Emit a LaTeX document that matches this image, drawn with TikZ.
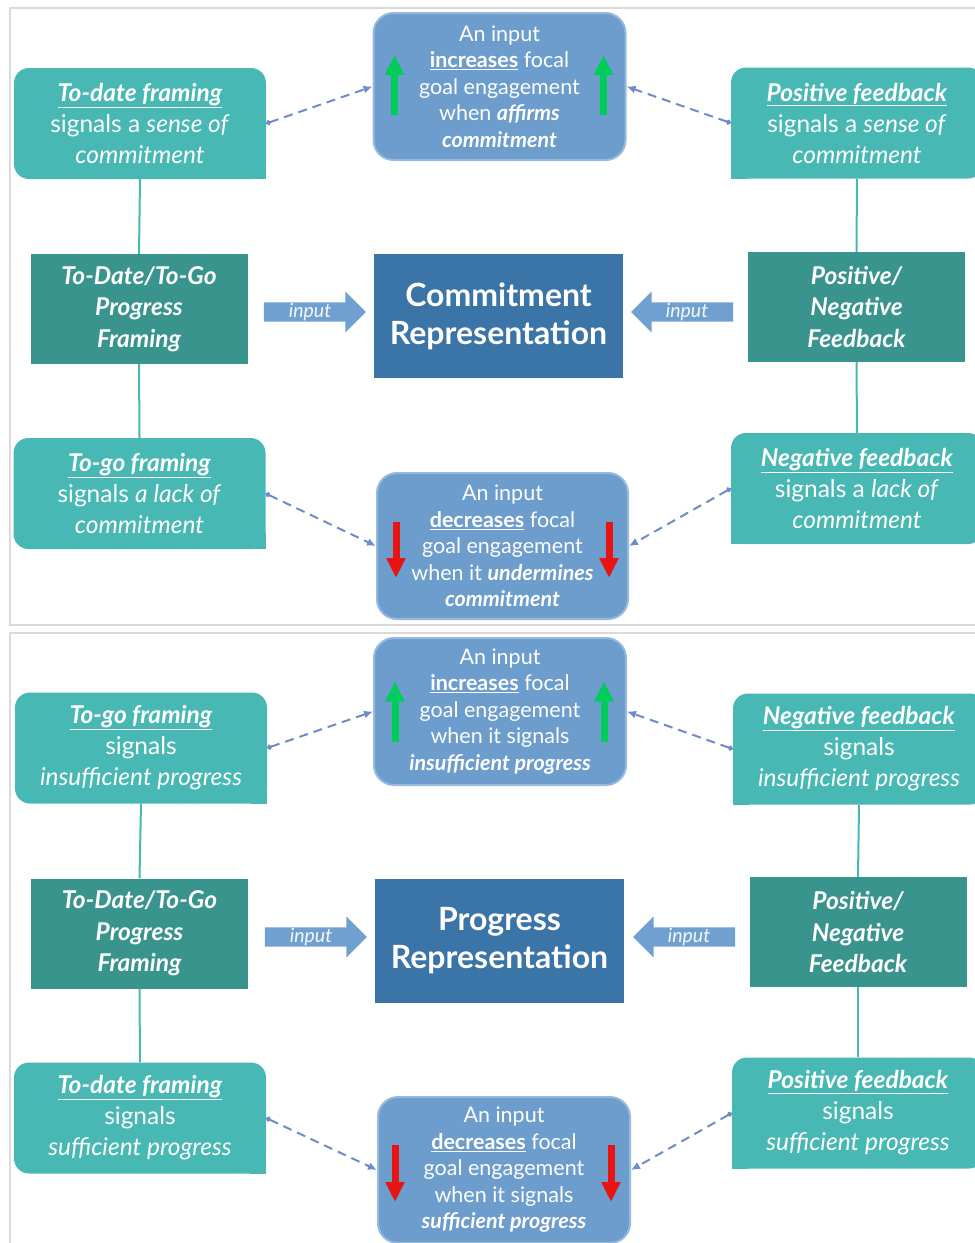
\documentclass[tikz,border=0pt]{standalone}
\usepackage{fontspec}
\setmainfont{Lato}
\usetikzlibrary{arrows.meta,shapes.arrows,calc}
\definecolor{tealL}{RGB}{72,184,180}
\definecolor{tealD}{RGB}{58,148,142}
\definecolor{repblue}{RGB}{59,117,167}
\definecolor{boxblue}{RGB}{108,157,204}
\definecolor{boxedge}{RGB}{150,186,222}
\definecolor{arrblue}{RGB}{111,160,207}
\definecolor{dashblue}{RGB}{110,140,200}
\definecolor{panelgray}{RGB}{218,218,218}
\definecolor{upgreen}{RGB}{0,204,90}
\definecolor{downred}{RGB}{232,20,20}
\newcommand{\mybi}[1]{\textbf{\textit{#1}}}
\newcommand{\myul}[1]{\underline{\textbf{\textit{#1}}}}
\tikzset{
  x=1pt, y=-1pt,
  sigbox/.style={rectangle, rounded corners=15pt, fill=tealL, text=white, minimum width=252pt, minimum height=111pt, align=center, inner sep=0pt, font=\fontsize{24.5}{31}\selectfont},
  darkbox/.style={rectangle, fill=tealD, text=white, minimum width=217pt, minimum height=110pt, align=center, inner sep=0pt, font=\fontsize{24.5}{31.5}\selectfont\bfseries\itshape},
  repbox/.style={rectangle, fill=repblue, text=white, minimum width=249pt, minimum height=124pt, align=center, inner sep=0pt, font=\fontsize{32}{38}\selectfont\bfseries},
  effbox/.style={rectangle, rounded corners=20pt, fill=boxblue, draw=boxedge, line width=2pt, text=white, minimum width=252pt, minimum height=147pt, align=center, inner sep=0pt, font=\fontsize{21.5}{26.5}\selectfont},
  inarrow/.style={single arrow, fill=arrblue, text=white!92!arrblue, minimum height=102pt, minimum width=41pt, single arrow head extend=10pt, inner sep=0pt, font=\fontsize{19.5}{22}\selectfont\itshape},
  link/.style={draw=tealL, line width=2pt},
  dashlink/.style={draw=dashblue, line width=2pt, dash pattern=on 9pt off 6pt, {Circle[length=5pt]}-{Latex[length=9pt,width=8pt]}},
  upar/.style={draw=upgreen, line width=7pt, -{Triangle[length=20pt,width=18pt]}},
  downar/.style={draw=downred, line width=7pt, -{Triangle[length=20pt,width=18pt]}},
  panel/.style={draw=panelgray, line width=1.5pt}
}
\begin{document}
\begin{tikzpicture}
\useasboundingbox (0,0) rectangle (975,1243);
\fill[white] (0,0) rectangle (975,1243);
\draw[panel] (10,8) rectangle (990,625);
\draw[panel] (10,633) rectangle (990,1260);

% ---------- Panel 1 ----------
\node[sigbox] (tl1) at (140,123.5) {\myul{To-date framing}\\signals a \textit{sense of}\\\textit{commitment}};
\fill[tealL] (tl1.south east) rectangle ++(-16,-16);
\node[sigbox] (tr1) at (857,123) {\myul{Positive feedback}\\signals a \textit{sense of}\\\textit{commitment}};
\fill[tealL] (tr1.south west) rectangle ++(16,-16);
\node[effbox] (ct1) at (499.5,86.5) {An input\\\underline{\textbf{increases}} focal\\goal engagement\\when \mybi{affirms}\\\mybi{commitment}};
\node[darkbox] (fr1) at (139,309) {To-Date/To-Go\\Progress\\Framing};
\node[repbox] (rep1) at (498.5,316) {Commitment\\Representation};
\node[darkbox] (fb1) at (856.5,307) {Positive/\\Negative\\Feedback};
\node[sigbox] (bl1) at (139.5,493.5) {\myul{To-go framing}\\signals \textit{a lack of}\\\textit{commitment}};
\fill[tealL] (bl1.south east) rectangle ++(-16,-16);
\node[sigbox] (br1) at (857,488.5) {\myul{Negative feedback}\\signals a \textit{lack of}\\\textit{commitment}};
\fill[tealL] (br1.south west) rectangle ++(16,-16);
\node[effbox, minimum height=146pt, minimum width=251pt] (cb1) at (502.5,546) {An input\\\underline{\textbf{decreases}} focal\\goal engagement\\when it \mybi{undermines}\\\mybi{commitment}};
\node[inarrow] (inL1) at (310,312) {input};
\node[inarrow, shape border rotate=180] (inR1) at (687,312) {input};

\draw[link] (tl1.south) -- (fr1.north);
\draw[link] (fr1.south) -- (bl1.north);
\draw[link] (tr1.south) -- (fb1.north);
\draw[link] (fb1.south) -- (br1.north);
\draw[dashlink] (tl1.east) -- (ct1.west);
\draw[dashlink] (tr1.west) -- (ct1.east);
\draw[dashlink] (bl1.east) -- (cb1.west);
\draw[dashlink] (br1.west) -- (cb1.east);
\draw[upar] ($(ct1.west)+(22,28.5)$) -- ($(ct1.west)+(22,-31.5)$);
\draw[upar] ($(ct1.east)+(-23,28.5)$) -- ($(ct1.east)+(-23,-31.5)$);
\draw[downar] ($(cb1.west)+(20,-24)$) -- ($(cb1.west)+(20,32)$);
\draw[downar] ($(cb1.east)+(-20,-24)$) -- ($(cb1.east)+(-20,32)$);

% ---------- Panel 2 ----------
\node[sigbox] (tl2) at (141,748) {\myul{To-go framing}\\signals\\\textit{insufficient progress}};
\fill[tealL] (tl2.south east) rectangle ++(-16,-16);
\node[sigbox] (tr2) at (859,749) {\myul{Negative feedback}\\signals\\\textit{insufficient progress}};
\fill[tealL] (tr2.south west) rectangle ++(16,-16);
\node[effbox] (ct2) at (500,711.5) {An input\\\underline{\textbf{increases}} focal\\goal engagement\\when it signals\\\mybi{insufficient progress}};
\node[darkbox] (fr2) at (139.5,933.5) {To-Date/To-Go\\Progress\\Framing};
\node[repbox] (rep2) at (499.5,940.5) {Progress\\Representation};
\node[darkbox] (fb2) at (858,932) {Positive/\\Negative\\Feedback};
\node[sigbox] (bl2) at (140,1118) {\myul{To-date framing}\\signals\\\textit{sufficient progress}};
\fill[tealL] (bl2.south east) rectangle ++(-16,-16);
\node[sigbox] (br2) at (858,1113) {\myul{Positive feedback}\\signals\\\textit{sufficient progress}};
\fill[tealL] (br2.south west) rectangle ++(16,-16);
\node[effbox, minimum height=146pt] (cb2) at (504,1170) {An input\\\underline{\textbf{decreases}} focal\\goal engagement\\when it signals\\\mybi{sufficient progress}};
\node[inarrow] (inL2) at (311,937) {input};
\node[inarrow, shape border rotate=180] (inR2) at (689,937) {input};

\draw[link] (tl2.south) -- (fr2.north);
\draw[link] (fr2.south) -- (bl2.north);
\draw[link] (tr2.south) -- (fb2.north);
\draw[link] (fb2.south) -- (br2.north);
\draw[dashlink] (tl2.east) -- (ct2.west);
\draw[dashlink] (tr2.west) -- (ct2.east);
\draw[dashlink] (bl2.east) -- (cb2.west);
\draw[dashlink] (br2.west) -- (cb2.east);
\draw[upar] ($(ct2.west)+(22,30)$) -- ($(ct2.west)+(22,-30)$);
\draw[upar] ($(ct2.east)+(-23,30)$) -- ($(ct2.east)+(-23,-30)$);
\draw[downar] ($(cb2.west)+(18,-25)$) -- ($(cb2.west)+(18,32)$);
\draw[downar] ($(cb2.east)+(-20,-25)$) -- ($(cb2.east)+(-20,32)$);
\end{tikzpicture}
\end{document}
